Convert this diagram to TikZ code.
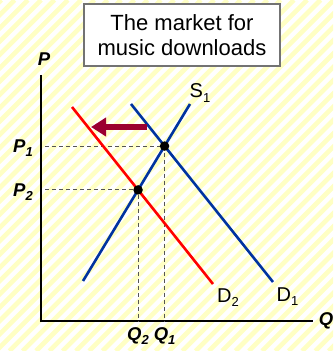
\documentclass[tikz,border=0pt]{standalone}
\usepackage{fontspec}
\setmainfont{Liberation Sans}
\usetikzlibrary{arrows.meta,positioning}
\definecolor{stripe}{HTML}{FFFFC4}
\definecolor{supply}{HTML}{0033A0}
\definecolor{demand}{HTML}{FF0000}
\definecolor{shift}{HTML}{9B0030}
\definecolor{guide}{HTML}{555555}
\tikzset{
  curve/.style={line width=2.6pt, line cap=butt},
  axisline/.style={line width=1.4pt, draw=black},
  guideline/.style={line width=0.9pt, draw=guide, dash pattern=on 4pt off 3pt},
  shiftarrow/.style={line width=5.5pt, draw=shift, -{Triangle[length=15pt,width=18pt]}},
  eqdot/.style={circle, fill=black, inner sep=0pt, minimum size=9.5pt},
  axistag/.style={font=\fontsize{18.5}{18.5}\selectfont\bfseries\itshape, inner sep=0pt},
  curvetag/.style={font=\fontsize{20}{20}\selectfont, inner sep=0pt},
  titlebox/.style={
    draw=black!55,
    line width=1.2pt,
    fill=white,
    align=center,
    font=\fontsize{22}{25}\selectfont,
    minimum width=196pt,
    minimum height=62pt,
    inner sep=0pt
  }
}
\newcommand{\low}[1]{\raisebox{-0.45ex}{\fontsize{13}{13}\selectfont #1}}

\begin{document}
\begin{tikzpicture}[x=1pt,y=1pt]
\useasboundingbox (0,0) rectangle (333,351);
% striped backdrop
\begin{scope}
  \clip (0,0) rectangle (333,351);
  \fill[white] (0,0) rectangle (333,351);
  \foreach \k in {-30,...,23}
    \draw[stripe, line width=4.6pt] ({36+13.3*\k},0) -- ++(351,351);
\end{scope}

\node[titlebox] (title) at (182,316) {The market for\\music downloads};

% axes
\coordinate (O) at (41,30);
\coordinate (ytop) at (41,276);
\coordinate (xend) at (313,30);
\draw[axisline] (ytop) -- (O) -- (xend);
\node[axistag] (plab) at ([shift={(3,16)}]ytop) {P};
\node[axistag] (qlab) at ([shift={(13,0)}]xend) {Q};

% supply and demand
\coordinate (s1lo) at (83,70);
\coordinate (s1hi) at (190,247);
\coordinate (d1hi) at (131,247);
\coordinate (d1lo) at (273,69);
\coordinate (d2hi) at (72,244);
\coordinate (d2lo) at (213,67);
\coordinate (e1) at (intersection of s1lo--s1hi and d1hi--d1lo);
\coordinate (e2) at (intersection of s1lo--s1hi and d2hi--d2lo);

\draw[guideline] ([xshift=4pt]e1 -| O) -- (e1) -- (e1 |- O);
\draw[guideline] ([xshift=4pt]e2 -| O) -- (e2) -- (e2 |- O);

\draw[curve, supply] (s1lo) -- (s1hi);
\draw[curve, supply] (d1hi) -- (d1lo);
\draw[curve, demand] (d2hi) -- (d2lo);

\node[curvetag] (s1lab) at ([shift={(10,11)}]s1hi) {S\low{1}};
\node[curvetag] (d1lab) at ([shift={(14.5,-14.5)}]d1lo) {D\low{1}};
\node[curvetag] (d2lab) at ([shift={(15,-13.5)}]d2lo) {D\low{2}};

\node[eqdot] (eq1) at (e1) {};
\node[eqdot] (eq2) at (e2) {};

\node[axistag, anchor=base east] (p1lab) at ([shift={(-8,-6.5)}]e1 -| O) {P\low{1}};
\node[axistag, anchor=base east] (p2lab) at ([shift={(-8,-6.5)}]e2 -| O) {P\low{2}};
\node[axistag, anchor=north] (q1lab) at ([yshift=-6pt]e1 |- O) {Q\low{1}};
\node[axistag, anchor=north] (q2lab) at ([yshift=-6pt]e2 |- O) {Q\low{2}};

% leftward shift of demand
\coordinate (shiftfrom) at (147,224);
\coordinate (shiftto) at (91,224);
\draw[shiftarrow] (shiftfrom) -- (shiftto);
\end{tikzpicture}
\end{document}
